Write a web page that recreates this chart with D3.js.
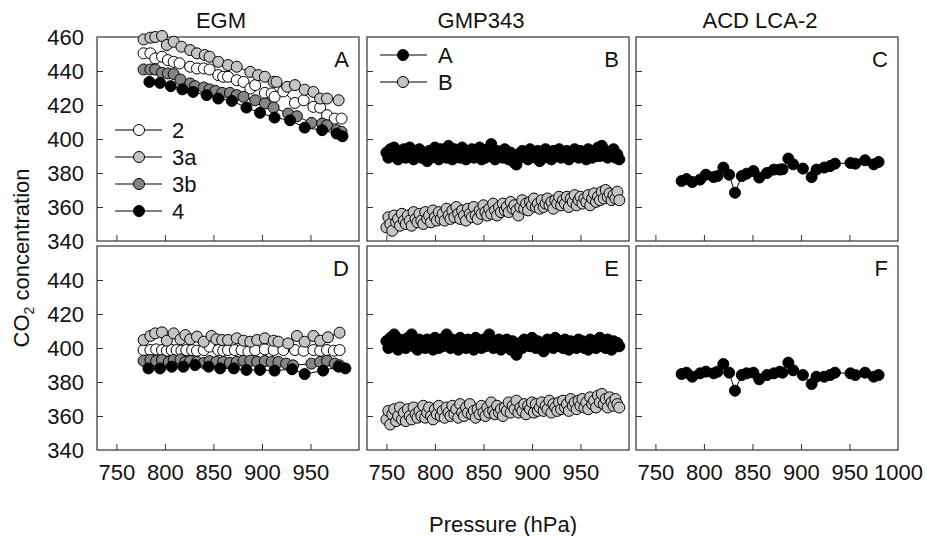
<!DOCTYPE html>
<html>
<head>
<meta charset="utf-8">
<script src="https://cdn.jsdelivr.net/npm/d3@7"></script>
<style>
  body { margin: 0; background: #fff; }
  svg { display: block; font-family: "Liberation Sans", Arial, sans-serif; }
</style>
</head>
<body>
<svg id="chart" width="927" height="536"></svg>
<script>
// ── Data ───────────────────────────────────────────────────────────────────

const columnTitles = ['EGM', 'GMP343', 'ACD LCA-2'];
const panelLetters = ['A', 'B', 'C', 'D', 'E', 'F'];
const pressureTicks = [750, 800, 850, 900, 950];
const pressureLabelsLast = [750, 800, 850, 900, 950, 1000];
const concTicks = [360, 380, 400, 420, 440];
const concLabelsTop = [340, 360, 380, 400, 420, 440, 460];
const concLabelsBottom = [340, 360, 380, 400, 420, 440];
const egmNames = ['2', '3a', '3b', '4'];
const gmpNames = ['A', 'B'];

// EGM, panel A  [pressure, CO2]
const egmA2 = [[778,450.4],[785,450.4],[790,447.4],[797,448.4],[803,446.4],[809,445.4],[815,444.5],[826,442.5],[833,441.5],[840,441.5],[846,440.9],[855,437.6],[860,436.6],[865,436.6],[874,434.6],[881,433.6],[888,429.7],[893,431.7],[903,427.1],[910,426.8],[913,424.8],[922,428.0],[934,421.2],[943,422.8],[953,418.9],[960,418.5],[967,414.0],[975,412.0],[982,412.0]];
const egmA3a = [[778,458.6],[785,459.6],[790,460.0],[797,460.6],[802,455.3],[809,457.2],[817,454.3],[826,452.3],[833,450.4],[841,449.4],[846,448.4],[855,445.4],[865,443.5],[874,442.5],[888,439.5],[896,437.6],[903,436.6],[912,433.6],[915,433.6],[926,430.7],[934,431.7],[944,429.0],[953,427.7],[960,423.8],[967,423.8],[979,422.8]];
const egmA3b = [[778,440.9],[785,440.9],[790,440.9],[797,438.9],[803,438.6],[809,438.2],[816,435.0],[826,432.7],[831,431.1],[840,430.3],[846,429.2],[852,428.3],[859,427.1],[867,427.1],[874,425.8],[881,424.8],[893,422.8],[903,420.9],[912,418.5],[927,415.0],[936,413.4],[951,409.5],[962,409.1],[967,408.1],[977,405.2],[982,404.2]];
const egmA4 = [[784,433.6],[795,433.0],[806,431.1],[818,429.2],[829,427.7],[843,425.8],[855,423.8],[869,422.4],[884,418.5],[898,415.4],[913,412.6],[929,411.0],[944,406.7],[962,405.2],[977,403.2],[983,401.6]];

// EGM, panel D
const egmD2 = [[778,398.8],[785,398.8],[791,399.2],[797,398.8],[802,398.4],[807,398.8],[812,398.8],[817,398.4],[822,398.8],[828,398.8],[833,398.4],[840,398.8],[846,400.8],[855,398.8],[860,398.4],[865,398.8],[872,398.8],[879,398.8],[886,397.8],[893,398.8],[903,399.2],[912,398.8],[922,398.8],[934,398.8],[943,398.4],[953,398.8],[960,398.4],[967,398.8],[974,398.4],[980,398.8]];
const egmD3a = [[778,404.7],[785,407.1],[790,408.6],[797,409.2],[802,404.3],[809,408.6],[816,405.1],[821,407.6],[826,405.1],[833,406.7],[840,403.7],[848,407.1],[853,405.1],[859,404.7],[865,404.7],[874,405.7],[881,404.3],[888,403.7],[895,404.7],[903,405.7],[912,404.3],[917,403.7],[927,402.7],[936,407.1],[944,403.7],[953,407.1],[960,404.3],[968,406.3],[980,409.0]];
const egmD3b = [[778,392.5],[785,392.9],[791,392.3],[797,392.9],[804,391.8],[809,392.9],[816,393.3],[821,391.8],[826,392.3],[833,391.8],[840,391.2],[846,392.3],[853,391.8],[860,391.8],[867,391.2],[874,391.8],[881,392.5],[888,392.5],[895,391.8],[903,392.3],[910,391.8],[917,391.8],[925,390.8],[932,389.8],[951,390.8],[960,391.8],[967,392.5],[975,390.8],[980,389.8]];
const egmD4 = [[783,388.0],[795,388.0],[807,389.0],[819,389.0],[831,390.0],[845,389.0],[857,388.0],[871,388.0],[884,387.1],[898,387.1],[913,386.7],[931,387.5],[944,384.7],[963,386.7],[979,389.0],[986,388.0]];

// GMP343, panels B and E
const gmpPressure = [
  750,752,754,756,758,760,762,764,766,768, 770,772,774,776,778,780,782,784,786,788,
  790,792,794,796,798,800,802,804,806,808, 810,812,814,816,818,820,822,824,826,828,
  830,832,834,836,838,840,842,844,846,848, 850,852,854,856,858,860,862,864,866,868,
  870,872,874,876,878,880,882,884,886,888, 890,892,894,896,898,900,902,904,906,908,
  910,912,914,916,918,920,922,924,926,928, 930,932,934,936,938,940,942,944,946,948,
  950,952,954,956,958,960,962,964,966,968, 970,972,974,976,978,980,982,984,986,988,
  990];
const gmpB_A = [
  392,389,394,390,395,391,388,393,390,394, 389,392,395,390,388,393,391,394,389,392,
  390,387,393,389,392,395,390,388,394,391, 393,389,396,391,388,394,390,392,389,395,
  391,388,393,390,394,389,392,390,395,388, 392,389,394,391,397,390,388,393,390,392,
  389,394,391,388,392,390,386,385,391,389, 393,390,392,388,394,390,391,389,393,387,
  392,389,394,390,392,388,393,391,390,394, 389,392,390,393,388,392,391,394,390,389,
  393,390,392,388,394,391,389,393,390,395, 390,396,391,393,389,392,390,394,389,391,
  388];
const gmpB_B = [
  348,354,350,346,355,351,353,349,356,352, 350,355,352,349,357,353,351,356,352,350,
  357,353,355,351,358,354,352,357,353,356, 352,359,355,353,358,354,360,356,353,358,
  355,352,359,356,354,360,355,353,358,356, 361,357,355,359,356,362,358,355,360,357,
  362,358,360,357,363,359,361,358,355,360, 364,359,362,358,363,361,365,360,362,359,
  364,360,362,365,361,363,359,364,362,366, 361,364,362,366,360,365,363,367,361,364,
  366,362,365,363,367,361,365,368,363,366, 364,369,365,370,366,368,364,367,365,369,
  364];
const gmpE_A = [
  404,400,406,401,408,402,399,405,401,404, 400,406,402,408,401,404,399,405,402,403,
  400,405,401,404,399,406,402,400,405,401, 403,408,402,400,405,401,404,399,406,402,
  404,400,405,401,403,399,406,402,404,400, 405,401,403,408,402,400,404,401,405,399,
  403,401,405,402,399,404,400,396,401,403, 400,405,402,404,401,406,402,400,404,401,
  403,398,402,405,401,404,400,406,402,401, 404,400,405,402,399,404,401,403,400,405,
  401,404,400,403,399,405,401,404,400,403, 406,401,404,400,405,402,399,404,401,403,
  401];
const gmpE_B = [
  358,363,355,361,364,357,360,365,358,362, 357,364,360,358,365,361,359,363,360,366,
  359,362,365,360,358,364,361,366,360,363, 359,365,362,360,366,361,364,359,367,362,
  360,365,362,367,361,363,359,364,361,366, 362,360,365,362,368,363,361,366,362,364,
  360,365,363,368,362,366,364,369,362,365, 363,367,361,366,364,368,362,367,363,365,
  368,363,366,364,369,362,367,365,363,368, 364,369,365,367,363,370,366,368,364,369,
  366,370,365,368,364,371,367,369,365,372, 368,373,367,370,365,371,368,366,370,367,
  365];

// ACD LCA-2, panels C and F
const acdPressure = [777,782,788,796,802,810,814,820,826,832,839,844,851,857,865,872,878,881,887,892,902,911,916,924,930,935,951,956,966,975,980];
const acdC = [375.3,376.4,374.7,376.1,379.0,377.6,378.2,383.2,379.0,368.4,378.2,379.6,381.2,377.3,380.0,382.0,382.0,382.2,388.5,385.1,382.6,377.6,382.0,383.2,384.1,385.5,385.9,385.5,387.5,385.1,386.5];
const acdF = [384.7,385.5,383.1,385.1,386.1,385.1,386.1,390.6,385.5,374.9,384.1,385.1,385.5,381.6,384.1,385.1,386.1,385.5,391.4,386.9,384.1,378.8,383.1,383.1,384.1,385.5,385.1,384.1,385.5,383.1,384.1];

// ── Layout ─────────────────────────────────────────────────────────────────

const colLeft = [97, 367, 636];
const rowTop = [37, 246];
const panelW = 262;
const panelH = 204;
const fontSize = 22;

const WHITE = '#ffffff';
const LIGHT = '#c4c4c4';
const MID = '#858585';
const BLACK = '#000000';

const zip = (p, v) => p.map((d, i) => [d, v[i]]);

const panels = [
  { col: 0, row: 0, series: [[egmA2, WHITE], [egmA3a, LIGHT], [egmA3b, MID], [egmA4, BLACK]] },
  { col: 1, row: 0, series: [[zip(gmpPressure, gmpB_A), BLACK], [zip(gmpPressure, gmpB_B), LIGHT]] },
  { col: 2, row: 0, series: [[zip(acdPressure, acdC), BLACK]] },
  { col: 0, row: 1, series: [[egmD2, WHITE], [egmD3a, LIGHT], [egmD3b, MID], [egmD4, BLACK]] },
  { col: 1, row: 1, series: [[zip(gmpPressure, gmpE_A), BLACK], [zip(gmpPressure, gmpE_B), LIGHT]] },
  { col: 2, row: 1, series: [[zip(acdPressure, acdF), BLACK]] },
];

const svg = d3.select('#chart');

const x = d3.scaleLinear().domain([730, 1000]).range([0, panelW]);
const y = d3.scaleLinear().domain([340, 460]).range([panelH, 0]);

const line = d3.line().x(d => x(d[0])).y(d => y(d[1]));

function drawMarker(g, cx, cy, fill) {
  g.append('circle')
    .attr('cx', cx).attr('cy', cy).attr('r', 5.5)
    .attr('fill', fill).attr('stroke', '#000').attr('stroke-width', 1);
}

panels.forEach((p, i) => {
  const g = svg.append('g')
    .attr('transform', `translate(${colLeft[p.col]},${rowTop[p.row]})`);

  // inward ticks
  const bx = g.append('g')
    .attr('transform', `translate(0,${panelH})`)
    .call(d3.axisBottom(x).tickValues(pressureTicks).tickSize(-6).tickFormat(''));
  const ly = g.append('g')
    .call(d3.axisLeft(y).tickValues(concTicks).tickSize(-6).tickFormat(''));
  [bx, ly].forEach(a => {
    a.select('.domain').remove();
    a.selectAll('line').attr('stroke', '#333');
  });

  // tick labels on the outer panels only
  if (p.col === 0) {
    const a = g.append('g')
      .call(d3.axisLeft(y)
        .tickValues(p.row === 0 ? concLabelsTop : concLabelsBottom)
        .tickSize(0).tickPadding(13));
    a.select('.domain').remove();
    a.selectAll('text').attr('font-size', fontSize).attr('font-family', null).attr('fill', '#111');
  }
  if (p.row === 1) {
    const a = g.append('g')
      .attr('transform', `translate(0,${panelH})`)
      .call(d3.axisBottom(x)
        .tickValues(p.col === 2 ? pressureLabelsLast : pressureTicks)
        .tickFormat(d3.format('d'))
        .tickSize(0).tickPadding(14));
    a.select('.domain').remove();
    a.selectAll('text').attr('font-size', fontSize).attr('font-family', null).attr('fill', '#111');
  }

  // frame
  g.append('rect')
    .attr('width', panelW).attr('height', panelH)
    .attr('fill', 'none').attr('stroke', '#333').attr('stroke-width', 1.2);

  // series
  p.series.forEach(([data, fill]) => {
    g.append('path')
      .datum(data)
      .attr('d', line)
      .attr('fill', 'none')
      .attr('stroke', '#000')
      .attr('stroke-width', 1);
    g.append('g').selectAll('circle')
      .data(data)
      .join('circle')
      .attr('cx', d => x(d[0]))
      .attr('cy', d => y(d[1]))
      .attr('r', 5.5)
      .attr('fill', fill)
      .attr('stroke', '#000')
      .attr('stroke-width', 1);
  });

  // panel letter
  g.append('text')
    .attr('x', panelW - 10).attr('y', 30)
    .attr('text-anchor', 'end')
    .attr('font-size', fontSize)
    .attr('fill', '#111')
    .text(panelLetters[i]);

  // legends
  if (i === 0) {
    const fills = [WHITE, LIGHT, MID, BLACK];
    egmNames.forEach((name, k) => {
      const yy = 93 + k * 27;
      g.append('line').attr('x1', 18).attr('x2', 65).attr('y1', yy).attr('y2', yy)
        .attr('stroke', '#000').attr('stroke-width', 1);
      drawMarker(g, 42, yy, fills[k]);
      g.append('text').attr('x', 75).attr('y', yy).attr('dy', '0.35em')
        .attr('font-size', fontSize).attr('fill', '#111').text(name);
    });
  }
  if (i === 1) {
    const fills = [BLACK, LIGHT];
    gmpNames.forEach((name, k) => {
      const yy = 18 + k * 27;
      g.append('line').attr('x1', 13).attr('x2', 60).attr('y1', yy).attr('y2', yy)
        .attr('stroke', '#000').attr('stroke-width', 1);
      drawMarker(g, 36, yy, fills[k]);
      g.append('text').attr('x', 71).attr('y', yy).attr('dy', '0.35em')
        .attr('font-size', fontSize).attr('fill', '#111').text(name);
    });
  }
});

// column titles
const titleX = [221, 481, 760];
columnTitles.forEach((t, k) => {
  svg.append('text')
    .attr('x', titleX[k]).attr('y', 28)
    .attr('text-anchor', 'middle')
    .attr('font-size', fontSize)
    .attr('fill', '#111')
    .text(t);
});

// axis titles
const yTitle = svg.append('text')
  .attr('transform', 'translate(29,258) rotate(-90)')
  .attr('text-anchor', 'middle')
  .attr('font-size', fontSize)
  .attr('fill', '#111');
yTitle.append('tspan').text('CO');
yTitle.append('tspan').attr('font-size', 14).attr('dy', 5).text('2');
yTitle.append('tspan').attr('dy', -5).text(' concentration');

svg.append('text')
  .attr('x', 503).attr('y', 532)
  .attr('text-anchor', 'middle')
  .attr('font-size', fontSize)
  .attr('fill', '#111')
  .text('Pressure (hPa)');
</script>
</body>
</html>
